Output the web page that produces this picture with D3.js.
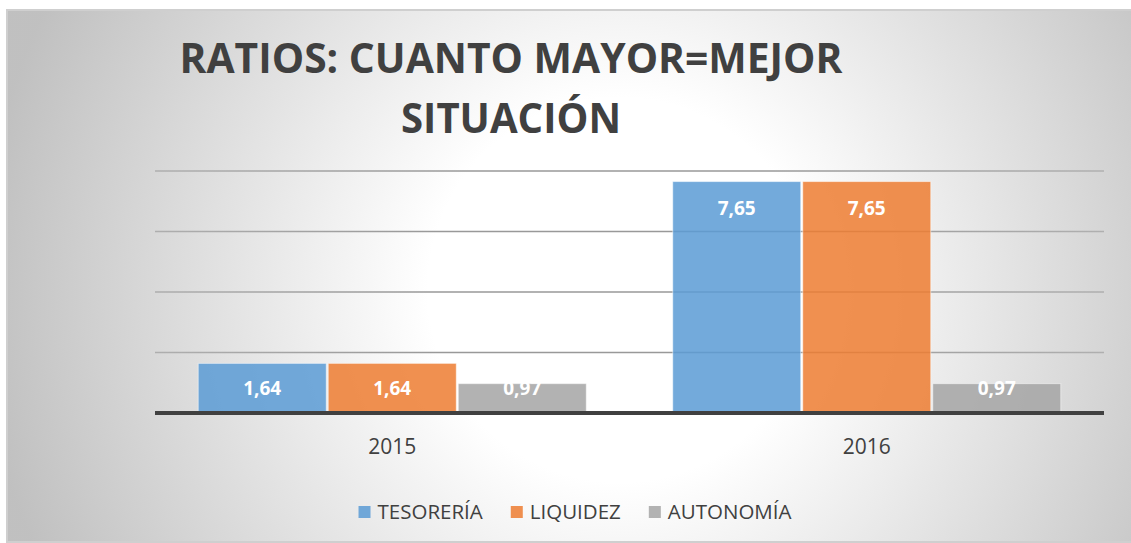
<!DOCTYPE html>
<html>
<head>
<meta charset="utf-8">
<script src="https://cdn.jsdelivr.net/npm/d3@7"></script>
<style>
  body { margin: 0; background: #fff; }
  svg { display: block; font-family: "Open Sans", sans-serif; }
</style>
</head>
<body>
<svg></svg>
<script>
// datos del gráfico
const years = ["2015", "2016"];
const seriesNames = ["TESORERÍA", "LIQUIDEZ", "AUTONOMÍA"];
const tesoreria = [1.64, 7.65];
const liquidez = [1.64, 7.65];
const autonomia = [0.97, 0.97];
const yTicks = [0, 2, 4, 6, 8];
const titleLines = ["RATIOS: CUANTO MAYOR=MEJOR", "SITUACIÓN"];

const seriesValues = [tesoreria, liquidez, autonomia];
const colors = ["#5B9BD5", "#ED7D31", "#A5A5A5"];

const width = 1131, height = 543;
const plot = { left: 155, right: 1104, top: 171, bottom: 413 };

const svg = d3.select("svg").attr("width", width).attr("height", height);

// gradiente radial del fondo
const defs = svg.append("defs");
const grad = defs.append("radialGradient")
    .attr("id", "bgGrad")
    .attr("gradientUnits", "userSpaceOnUse")
    .attr("cx", 620).attr("cy", 290).attr("r", 640);
grad.append("stop").attr("offset", 0).attr("stop-color", "#bdbdbd").attr("stop-opacity", 0);
grad.append("stop").attr("offset", 0.3).attr("stop-color", "#bdbdbd").attr("stop-opacity", 0);
grad.append("stop").attr("offset", 1).attr("stop-color", "#bdbdbd").attr("stop-opacity", 0.95);

// fondo del área del gráfico
svg.append("rect")
    .attr("x", 7).attr("y", 10)
    .attr("width", width + 10).attr("height", 532)
    .attr("fill", "#fff");

// escalas
const x = d3.scaleBand()
    .domain(years)
    .range([plot.left, plot.right])
    .paddingInner(0.178)
    .paddingOuter(0.089);

const xInner = d3.scaleBand()
    .domain(seriesNames)
    .range([0, x.bandwidth()]);

const y = d3.scaleLinear()
    .domain([0, 8])
    .range([plot.bottom, plot.top]);

// líneas de cuadrícula
svg.append("g")
    .selectAll("line")
    .data(yTicks.filter(d => d > 0))
    .enter()
    .append("line")
    .attr("x1", plot.left).attr("x2", plot.right)
    .attr("y1", d => y(d)).attr("y2", d => y(d))
    .attr("stroke", "#999")
    .attr("stroke-width", 1.5);

// capa del degradado encima
svg.append("rect")
    .attr("x", 7).attr("y", 10)
    .attr("width", width + 10).attr("height", 532)
    .attr("fill", "url(#bgGrad)")
    .attr("stroke", "#cfcfcf")
    .attr("stroke-width", 2);

// barras
const rows = [];
years.forEach((yr, i) => {
    seriesNames.forEach((s, j) => {
        rows.push({ year: yr, serie: s, value: seriesValues[j][i], color: colors[j] });
    });
});

const fmt = v => d3.format(".2f")(v).replace(".", ",");

const bars = svg.append("g")
    .selectAll(".bar")
    .data(rows)
    .enter()
    .append("g")
    .attr("class", "bar")
    .attr("transform", d => `translate(${x(d.year) + xInner(d.serie)},0)`);

bars.append("rect")
    .attr("x", 1)
    .attr("y", d => y(d.value))
    .attr("width", xInner.bandwidth() - 2)
    .attr("height", d => y(0) - y(d.value))
    .attr("fill", d => d.color)
    .attr("fill-opacity", 0.85)
    .attr("stroke", "#fff")
    .attr("stroke-opacity", 0.5)
    .attr("stroke-width", 1);

bars.append("text")
    .attr("x", xInner.bandwidth() / 2)
    .attr("y", d => Math.min(y(d.value) + 26, y(0) - 25) + 7)
    .attr("text-anchor", "middle")
    .attr("fill", "#fff")
    .style("font-size", "19px")
    .style("font-weight", "bold")
    .text(d => fmt(d.value));

// línea base
svg.append("line")
    .attr("x1", plot.left).attr("x2", plot.right)
    .attr("y1", y(0)).attr("y2", y(0))
    .attr("stroke", "#404040")
    .attr("stroke-width", 4);

// etiquetas del eje X
svg.append("g")
    .selectAll("text")
    .data(years)
    .enter()
    .append("text")
    .attr("x", d => x(d) + x.bandwidth() / 2)
    .attr("y", 454)
    .attr("text-anchor", "middle")
    .attr("fill", "#404040")
    .style("font-size", "21px")
    .text(d => d);

// título
const titleX = 511;
svg.append("text")
    .attr("x", titleX).attr("y", 73)
    .attr("text-anchor", "middle")
    .attr("fill", "#404040")
    .attr("textLength", 663)
    .attr("lengthAdjust", "spacingAndGlyphs")
    .style("font-size", "42px")
    .style("font-weight", "bold")
    .text(titleLines[0]);

svg.append("text")
    .attr("x", titleX).attr("y", 133)
    .attr("text-anchor", "middle")
    .attr("fill", "#404040")
    .attr("textLength", 220)
    .attr("lengthAdjust", "spacingAndGlyphs")
    .style("font-size", "42px")
    .style("font-weight", "bold")
    .text(titleLines[1]);

// leyenda
const legend = svg.append("g").attr("id", "legend");
const items = legend.selectAll("g")
    .data(seriesNames)
    .enter()
    .append("g");

items.append("rect")
    .attr("y", 506)
    .attr("width", 12).attr("height", 12)
    .attr("fill", (d, i) => colors[i])
    .attr("fill-opacity", 0.85);

items.append("text")
    .attr("x", 19)
    .attr("y", 519)
    .attr("fill", "#404040")
    .style("font-size", "20.5px")
    .text(d => d);

let offset = 0;
const gap = 28;
items.each(function () {
    const w = 19 + d3.select(this).select("text").node().getComputedTextLength();
    d3.select(this).attr("transform", `translate(${offset},0)`);
    offset += w + gap;
});
const legendWidth = offset - gap;
legend.attr("transform", `translate(${575 - legendWidth / 2},0)`);
</script>
</body>
</html>
